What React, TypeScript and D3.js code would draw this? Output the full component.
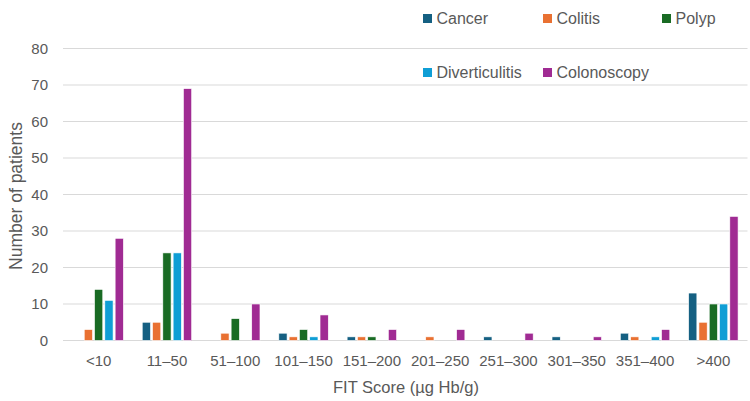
import React from 'react';
import * as d3 from 'd3';

const categories = ['<10', '11–50', '51–100', '101–150', '151–200', '201–250', '251–300', '301–350', '351–400', '>400'];
const seriesNames = ['Cancer', 'Colitis', 'Polyp', 'Diverticulitis', 'Colonoscopy'];
const cancer = [0, 5, 0, 2, 1, 0, 1, 1, 2, 13];
const colitis = [3, 5, 2, 1, 1, 1, 0, 0, 1, 5];
const polyp = [14, 24, 6, 3, 1, 0, 0, 0, 0, 10];
const diverticulitis = [11, 24, 0, 1, 0, 0, 0, 0, 1, 10];
const colonoscopy = [28, 69, 10, 7, 3, 3, 2, 1, 3, 34];
const yTicks = [0, 10, 20, 30, 40, 50, 60, 70, 80];
const colors = ['#156082', '#E97132', '#196B24', '#0F9ED5', '#A02B93'];

const W = 750;
const H = 401;
const font = "'Liberation Sans', Arial, sans-serif";
const textColor = '#595959';

const App = () => {
  const series = [cancer, colitis, polyp, diverticulitis, colonoscopy];

  const x = d3.scaleBand<string>().domain(categories).range([64.5, 747.5]).padding(0);
  const xInner = d3.scaleBand<string>()
    .domain(seriesNames)
    .range([0, x.bandwidth()])
    .paddingInner(0.2)
    .paddingOuter(0.915);
  const y = d3.scaleLinear().domain([0, 80]).range([340.5, 48.5]);

  // legend laid out as a grid in the upper right
  const legendCols = [423, 543, 662];
  const legendRows = [18.5, 72.5];

  return (
    <svg width={W} height={H} style={{ position: 'absolute', left: 0, top: 0, background: '#fff' }}>
      <rect width={W} height={H} fill="#fff" />
      {yTicks.map((t) => (
        <g key={t}>
          <line x1={63} x2={747.5} y1={y(t)} y2={y(t)} stroke="#d9d9d9" strokeWidth={1} />
          <text x={48} y={y(t) + 5} textAnchor="end" fontFamily={font} fontSize={15} fill={textColor}>{t}</text>
        </g>
      ))}

      {categories.map((c, i) => (
        <g key={c} transform={`translate(${x(c)},0)`}>
          {seriesNames.map((s, j) => {
            const v = series[j][i];
            if (!v) return null;
            return (
              <rect
                key={s}
                x={xInner(s)}
                y={y(v)}
                width={xInner.bandwidth()}
                height={y(0) - y(v)}
                fill={colors[j]}
                stroke="#fff"
                strokeWidth={0.6}
              />
            );
          })}
          <text x={x.bandwidth() / 2} y={366} textAnchor="middle" fontFamily={font} fontSize={15} fill={textColor}>{c}</text>
        </g>
      ))}

      <text
        transform="translate(22,196) rotate(-90)"
        textAnchor="middle"
        fontFamily={font}
        fontSize={17.5}
        fill={textColor}
      >
        Number of patients
      </text>
      <text
        x={406}
        y={393}
        textAnchor="middle"
        fontFamily={font}
        fontSize={16.5}
        fill={textColor}
        textLength={146}
        lengthAdjust="spacingAndGlyphs"
      >
        FIT Score (µg Hb/g)
      </text>

      {seriesNames.map((s, j) => {
        const lx = legendCols[j % 3];
        const ly = legendRows[Math.floor(j / 3)];
        return (
          <g key={s}>
            <rect x={lx} y={ly - 4.5} width={9} height={9} fill={colors[j]} />
            <text x={lx + 13.5} y={ly + 5.8} fontFamily={font} fontSize={16} fill={textColor}>{s}</text>
          </g>
        );
      })}
    </svg>
  );
};

export default App;
